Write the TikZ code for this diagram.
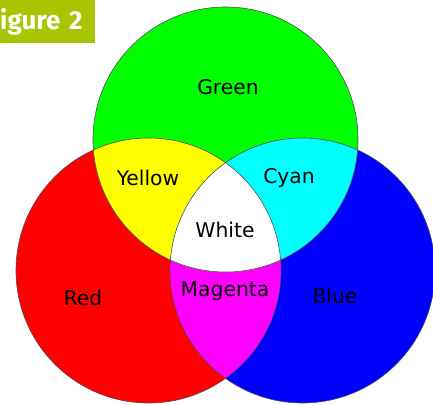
\documentclass[tikz,border=0pt]{standalone}
\usepackage{fontspec}
\setsansfont{DejaVu Sans}
\newfontfamily\tagfont{Fira Sans}
\usetikzlibrary{positioning}
\definecolor{tagbar}{HTML}{A9C400}
\definecolor{rim}{HTML}{505050}
\definecolor{lgreen}{HTML}{00FF00}
\definecolor{lred}{HTML}{FF0000}
\definecolor{lblue}{HTML}{0000FF}
\definecolor{lyellow}{HTML}{FFFF00}
\definecolor{lcyan}{HTML}{00FFFF}
\definecolor{lmagenta}{HTML}{FF00FF}
\tikzset{
  lab/.style={font=\sffamily\fontsize{20.3}{20.3}\selectfont, text=black, inner sep=0pt},
  rimline/.style={draw=rim, line width=0.6pt},
  tagbox/.style={fill=tagbar, text=white, font=\tagfont\bfseries\fontsize{26}{26}\selectfont,
    minimum width=95pt, minimum height=43pt, text width=95pt, inner sep=0pt, align=left},
}

\begin{document}
\begin{tikzpicture}[x=1pt, y=-1pt]
\useasboundingbox (0,0) rectangle (433,404);

\coordinate (gc) at (225.5,139.5);
\coordinate (rc) at (148.5,270.5);
\coordinate (bc) at (302.5,270.5);

% primary discs
\fill[lred] (rc) circle[radius=132.5pt];
\fill[lgreen] (gc) circle[radius=132.5pt];
\fill[lblue] (bc) circle[radius=132.5pt];

% overlaps
\begin{scope}
  \clip (rc) circle[radius=132.5pt];
  \fill[lmagenta] (bc) circle[radius=132.5pt];
\end{scope}
\begin{scope}
  \clip (gc) circle[radius=132.5pt];
  \fill[lyellow] (rc) circle[radius=132.5pt];
  \fill[lcyan] (bc) circle[radius=132.5pt];
  \clip (rc) circle[radius=132.5pt];
  \fill[white] (bc) circle[radius=132.5pt];
\end{scope}

\draw[rimline] (rc) circle[radius=132.5pt];
\draw[rimline] (gc) circle[radius=132.5pt];
\draw[rimline] (bc) circle[radius=132.5pt];

\node[lab] (green) at (228,87) {Green};
\node[lab] (yellow) at (148,178) {Yellow};
\node[lab] (cyan) at (289,178) {Cyan};
\node[lab] (white) at (225,230) {White};
\node[lab] (magenta) at (225,291) {Magenta};
\node[lab] (red) at (83,298) {Red};
\node[lab] (blue) at (335,296) {Blue};

\node[tagbox, anchor=north west] (tag) at (0,0) {igure 2};

\end{tikzpicture}
\end{document}
